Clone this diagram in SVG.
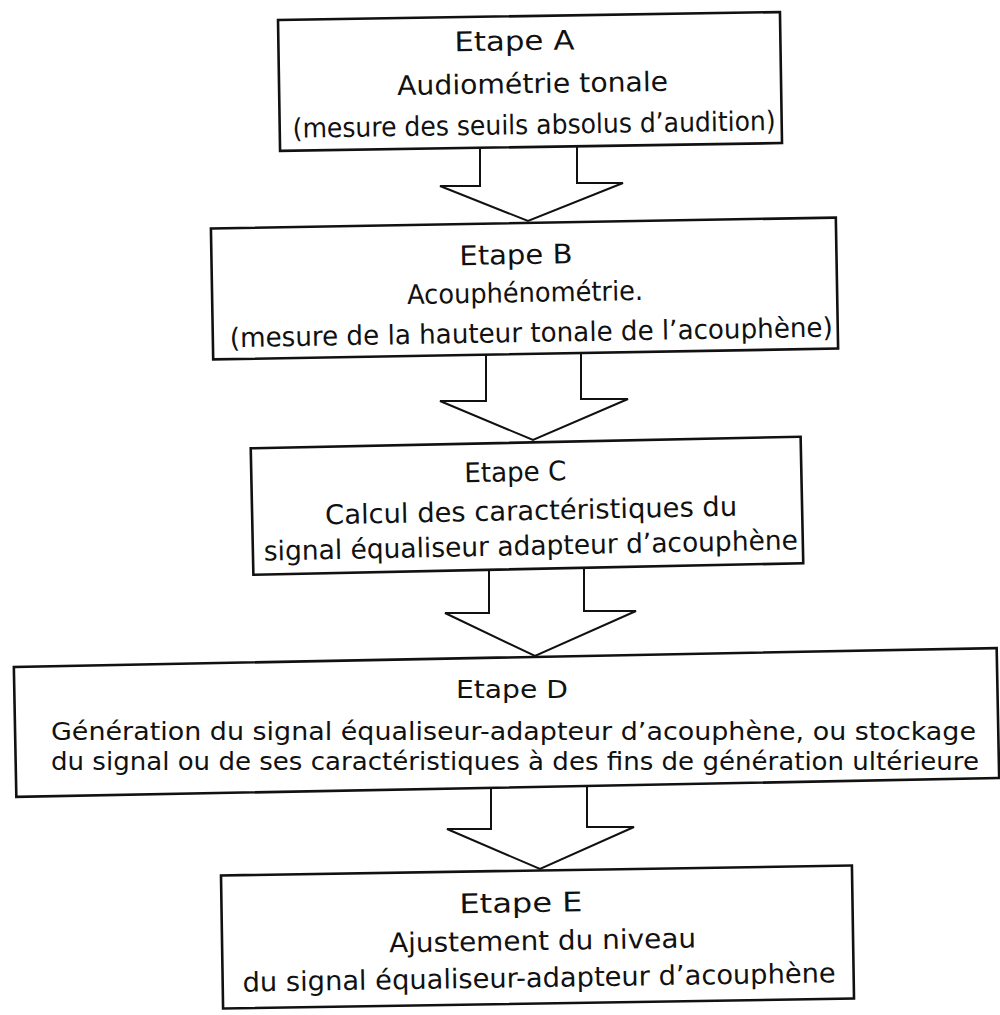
<svg xmlns="http://www.w3.org/2000/svg" width="1000" height="1015" viewBox="0 0 1000 1015">
<style>
.box{fill:#fff;stroke:#111;stroke-width:2.6}
.arr{fill:none;stroke:#111;stroke-width:2;stroke-linejoin:miter}
text{font-family:"DejaVu Sans","Liberation Sans",sans-serif;fill:#111}
.t{font-size:27px}
.d{font-size:25px}
</style>
<rect width="1000" height="1015" fill="#fff"/>
<g id="connectors">
<path class="arr" d="M480,147 V186 H440 L528,221 L623,183 H577 V145"/>
<path class="arr" d="M486,354 V401 H440 L533,440 L628,399 H581 V352"/>
<path class="arr" d="M489,570 V613 H445 L535,656 L636,611 H584 V568"/>
<path class="arr" d="M491,788 V829 H447 L540,869 L634,827 H587 V786"/>
</g>
<g id="stepA" transform="rotate(-0.9 530 81)">
<rect class="box" x="279" y="16" width="502" height="131"/>
<text class="t" x="455" y="50" textLength="120" lengthAdjust="spacingAndGlyphs">Etape A</text>
<text class="t" x="397" y="93" textLength="271" lengthAdjust="spacingAndGlyphs">Audiométrie tonale</text>
<text class="t" x="292" y="134" textLength="483" lengthAdjust="spacingAndGlyphs">(mesure des seuils absolus d’audition)</text>
</g>
<g id="stepB" transform="rotate(-1 524.5 288)">
<rect class="box" x="212" y="223" width="625" height="131"/>
<text class="t" x="460" y="264" textLength="113" lengthAdjust="spacingAndGlyphs">Etape B</text>
<text class="t" x="407" y="302" textLength="236" lengthAdjust="spacingAndGlyphs">Acouphénométrie.</text>
<text class="t" x="229" y="342" textLength="603" lengthAdjust="spacingAndGlyphs">(mesure de la hauteur tonale de l’acouphène)</text>
</g>
<g id="stepC" transform="rotate(-1.2 527 506)">
<rect class="box" x="252" y="442.5" width="550" height="126.5"/>
<text class="t" x="465" y="481" textLength="102" lengthAdjust="spacingAndGlyphs">Etape C</text>
<text class="t" x="325" y="520" textLength="412" lengthAdjust="spacingAndGlyphs">Calcul des caractéristiques du</text>
<text class="t" x="263" y="555" textLength="534" lengthAdjust="spacingAndGlyphs">signal équaliseur adapteur d’acouphène</text>
</g>
<g id="stepD">
<rect class="box" x="15" y="657.5" width="983" height="130" transform="rotate(-1.1 506 722.5)"/>
<text class="d" x="456" y="698" textLength="112" lengthAdjust="spacingAndGlyphs">Etape D</text>
<text class="d" x="51" y="740" textLength="925" lengthAdjust="spacingAndGlyphs">Génération du signal équaliseur-adapteur d’acouphène, ou stockage</text>
<text class="d" x="51" y="770" textLength="928" lengthAdjust="spacingAndGlyphs">du signal ou de ses caractéristiques à des fins de génération ultérieure</text>
</g>
<g id="stepE" transform="rotate(-0.9 537.5 937)">
<rect class="box" x="222" y="870.5" width="631" height="133"/>
<text class="t" x="460" y="912" textLength="123" lengthAdjust="spacingAndGlyphs">Etape E</text>
<text class="t" x="389" y="950" textLength="307" lengthAdjust="spacingAndGlyphs">Ajustement du niveau</text>
<text class="t" x="242" y="987" textLength="593" lengthAdjust="spacingAndGlyphs">du signal équaliseur-adapteur d’acouphène</text>
</g>
</svg>
